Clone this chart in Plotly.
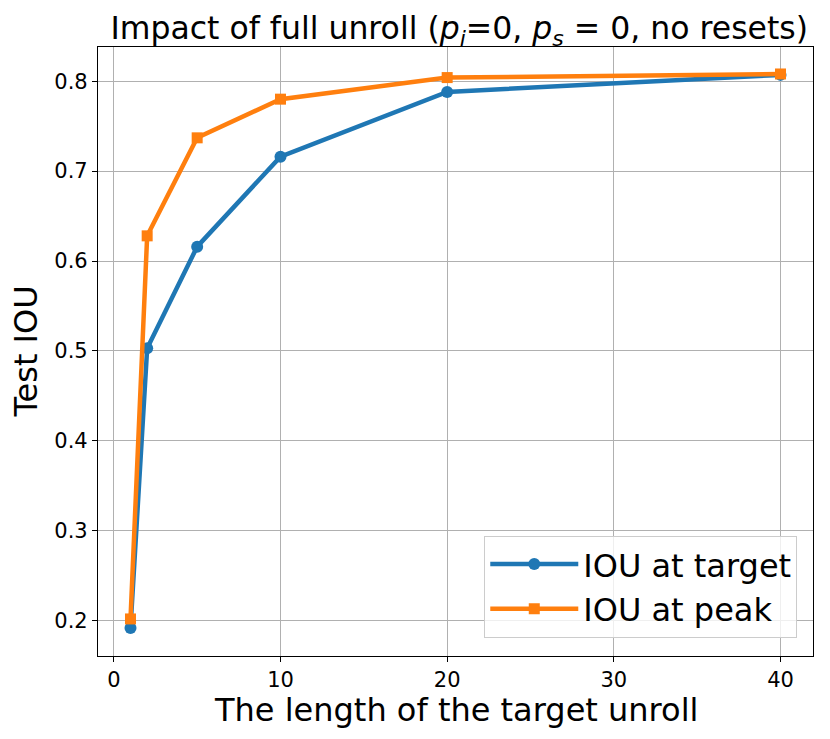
import plotly.graph_objects as go

# Target unroll length vs test IOU
unroll_len = [1, 2, 5, 10, 20, 40]
iou_target = [0.192, 0.503, 0.616, 0.716, 0.788, 0.807]
iou_peak = [0.202, 0.628, 0.737, 0.780, 0.804, 0.808]

x_ticks = [0, 10, 20, 30, 40]
y_ticks = [0.2, 0.3, 0.4, 0.5, 0.6, 0.7, 0.8]

FONT = "DejaVu Sans"

fig = go.Figure()

fig.add_trace(go.Scatter(
    x=unroll_len, y=iou_target, mode="lines+markers", name="IOU at target",
    line=dict(color="#1f77b4", width=4.5),
    marker=dict(symbol="circle", size=12, color="#1f77b4"),
    cliponaxis=False,
))
fig.add_trace(go.Scatter(
    x=unroll_len, y=iou_peak, mode="lines+markers", name="IOU at peak",
    line=dict(color="#ff7f0e", width=4.5),
    marker=dict(symbol="square", size=11, color="#ff7f0e"),
    cliponaxis=False,
))

axis_style = dict(
    showline=True, linecolor="black", linewidth=1.2, mirror=True,
    showgrid=True, gridcolor="#b0b0b0", gridwidth=1,
    ticks="outside", ticklen=5, tickcolor="black",
    tickfont=dict(family=FONT, size=21, color="black"),
    zeroline=False,
)

fig.update_xaxes(range=[-0.95, 41.95], tickvals=x_ticks, **axis_style)
fig.update_yaxes(range=[0.1608, 0.838], tickvals=y_ticks,
                 tickformat=".1f", **axis_style)

# page body adds ~8px offset, so margins are trimmed to compensate
fig.update_layout(
    width=822, height=731,
    margin=dict(l=90, r=17, t=39, b=83),
    plot_bgcolor="white", paper_bgcolor="white",
    font=dict(family=FONT, color="black"),
    title=dict(
        text="Impact of full unroll (<i>p</i><sub><i>i</i></sub>=0, "
             "<i>p</i><sub><i>s</i></sub> = 0, no resets)",
        x=0.549, xanchor="center", yref="container", y=0.972, yanchor="middle",
        font=dict(family=FONT, size=31.5, color="black"),
    ),
    legend=dict(
        x=0.978, y=0.03, xanchor="right", yanchor="bottom",
        bgcolor="rgba(255,255,255,0.8)", bordercolor="#cccccc", borderwidth=1,
        font=dict(family=FONT, size=32, color="black"),
        itemwidth=88,
    ),
    annotations=[
        dict(text="The length of the target unroll", xref="paper", yref="paper",
             x=0.5, y=-0.089, xanchor="center", yanchor="middle",
             showarrow=False, font=dict(family=FONT, size=32, color="black")),
        dict(text="Test IOU", xref="paper", yref="paper",
             x=-0.102, y=0.5, xanchor="center", yanchor="middle", textangle=-90,
             showarrow=False, font=dict(family=FONT, size=32, color="black")),
    ],
)

fig.write_html("out.html")
